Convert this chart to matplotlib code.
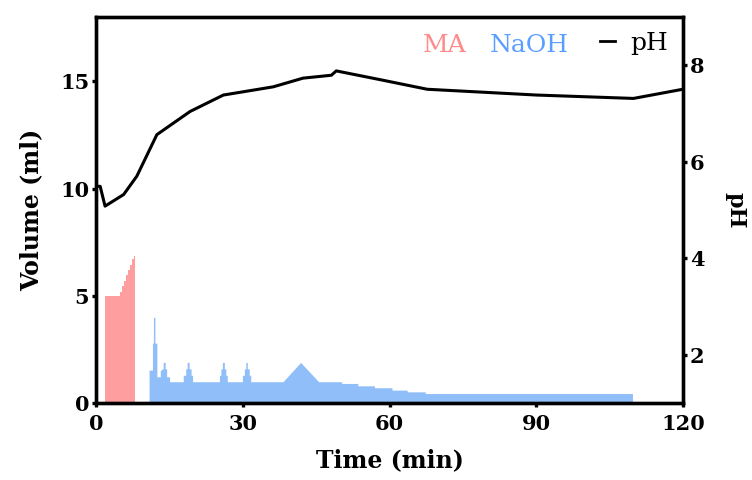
import matplotlib
matplotlib.use("Agg")
import matplotlib.pyplot as plt
from matplotlib.lines import Line2D

# MA dosing volume (ml) - step vertices
ma_time = [1.8, 1.8, 4.9, 4.9, 5.3, 5.3, 5.7, 5.7, 6.1, 6.1, 6.5, 6.5, 6.9, 6.9, 7.3, 7.3, 7.7, 7.7, 8.0, 8.0]
ma_vol = [0, 5.0, 5.0, 5.2, 5.2, 5.45, 5.45, 5.7, 5.7, 5.95, 5.95, 6.2, 6.2, 6.45, 6.45, 6.7, 6.7, 6.85, 6.85, 0]

# NaOH dosing volume (ml)
naoh_time = [10.8, 10.8, 11.5, 11.5, 11.7, 11.7, 12.0, 12.0, 12.4, 12.4, 13.1, 13.1, 13.4, 13.4, 13.7, 13.7,
             14.1, 14.1, 14.4, 14.4, 15.0, 15.0,
             17.8, 17.8, 18.3, 18.3, 18.6, 18.6, 19.0, 19.0, 19.4, 19.4, 19.7, 19.7,
             25.2, 25.2, 25.5, 25.5, 25.8, 25.8, 26.2, 26.2, 26.5, 26.5, 26.8, 26.8,
             29.9, 29.9, 30.3, 30.3, 30.6, 30.6, 30.9, 30.9, 31.3, 31.3, 31.6, 31.6,
             38.2, 41.8, 45.5, 50.2, 50.2, 53.5, 53.5, 56.9, 56.9, 60.5, 60.5, 63.6, 63.6,
             67.3, 67.3, 109.7, 109.7]
naoh_vol = [0, 1.54, 1.54, 2.8, 2.8, 4.0, 4.0, 2.8, 2.8, 1.23, 1.23, 1.54, 1.54, 1.6, 1.6, 1.9,
            1.9, 1.6, 1.6, 1.23, 1.23, 1.0,
            1.0, 1.3, 1.3, 1.6, 1.6, 1.9, 1.9, 1.6, 1.6, 1.3, 1.3, 1.0,
            1.0, 1.3, 1.3, 1.6, 1.6, 1.9, 1.9, 1.6, 1.6, 1.3, 1.3, 1.0,
            1.0, 1.3, 1.3, 1.6, 1.6, 1.9, 1.9, 1.6, 1.6, 1.3, 1.3, 1.0,
            1.0, 1.9, 1.0, 1.0, 0.92, 0.92, 0.81, 0.81, 0.72, 0.72, 0.61, 0.61, 0.53,
            0.53, 0.45, 0.45, 0]

# pH curve
ph_time = [0.0, 0.8, 1.8, 5.6, 8.3, 12.4, 19.2, 26.0, 36.2, 42.3, 48.1, 49.1, 58.0, 67.7, 90.1, 109.9, 120.0]
ph_val = [5.49, 5.49, 5.08, 5.32, 5.70, 6.56, 7.04, 7.38, 7.55, 7.73, 7.79, 7.88, 7.70, 7.50, 7.38, 7.31, 7.50]

ma_color = "#FF9E9E"
naoh_color = "#90BEF8"

plt.rcParams["font.family"] = ["DejaVu Serif"]

fig = plt.figure(figsize=(7.52, 4.8), dpi=100)
ax = fig.add_axes([0.128, 0.160, 0.780, 0.805])
ax2 = ax.twinx()

ax.fill_between(ma_time, ma_vol, 0, color=ma_color, linewidth=0)
ax.fill_between(naoh_time, naoh_vol, 0, color=naoh_color, linewidth=0)
ax2.plot(ph_time, ph_val, color="black", linewidth=2.2)

ax.set_xlim(0, 120)
ax.set_ylim(0, 18)
ax2.set_ylim(1, 9)
ax.set_xticks([0, 30, 60, 90, 120])
ax.set_yticks([0, 5, 10, 15])
ax2.set_yticks([2, 4, 6, 8])

for a in (ax, ax2):
    for s in a.spines.values():
        s.set_linewidth(2.4)
    a.tick_params(length=3, width=2.4, labelsize=15, pad=2)
    for lab in a.get_xticklabels() + a.get_yticklabels():
        lab.set_fontweight("bold")
ax.tick_params(axis="x", pad=5)

ax.set_xlabel("Time (min)", fontsize=17, fontweight="bold", labelpad=10)
ax.set_ylabel("Volume (ml)", fontsize=17, fontweight="bold", labelpad=12)
ax2.set_ylabel("pH", fontsize=16, fontweight="bold", rotation=270, labelpad=30)

# legend: coloured text for the areas, a line handle for pH
ax.text(0.557, 0.927, "MA", transform=ax.transAxes, fontsize=18, color="#FF8A8A",
        ha="left", va="center")
ax.text(0.671, 0.927, "NaOH", transform=ax.transAxes, fontsize=18, color="#5A9EFF",
        ha="left", va="center")
leg = ax.legend([Line2D([], [], color="black", linewidth=2)], ["pH"], frameon=False,
                loc="upper right", fontsize=18, handlelength=0.6, handletextpad=0.6,
                borderaxespad=0.2, borderpad=0.4)

fig.savefig("out.png", dpi=100)
